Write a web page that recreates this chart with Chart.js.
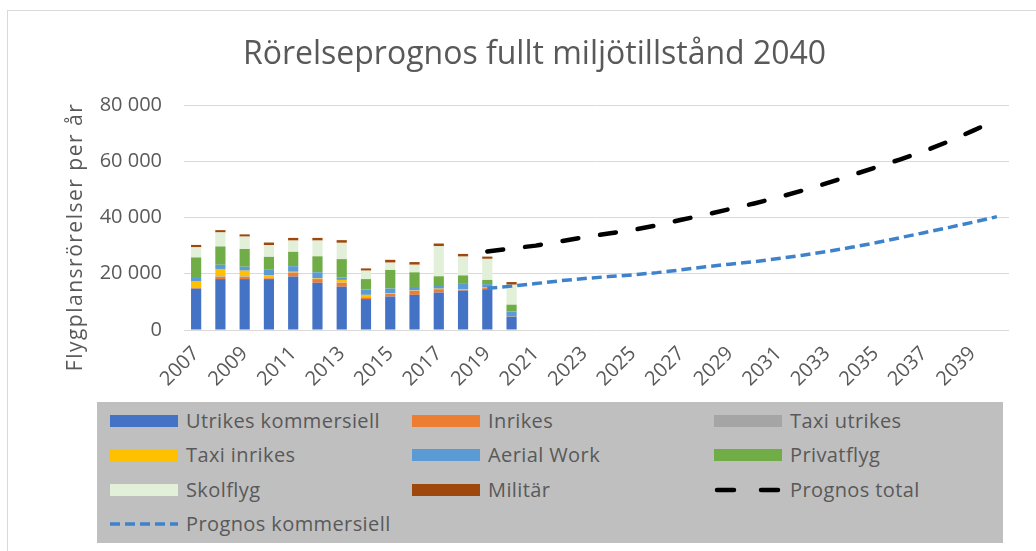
<!DOCTYPE html>
<html>
<head>
<meta charset="utf-8">
<script src="https://cdn.jsdelivr.net/npm/chart.js@4/dist/chart.umd.min.js"></script>
<style>
  body { margin: 0; background: #fff; overflow: hidden; width: 1036px; height: 551px; position: relative; }
  .frame { position: absolute; left: 7px; top: 10px; width: 1100px; height: 600px; border: 1px solid #d9d9d9; }
  #chart { position: absolute; left: 0; top: 0; }
  .legend { position: absolute; left: 97px; top: 402px; width: 906px; height: 141px; background: #bfbfbf;
            font-family: 'Open Sans', sans-serif; font-size: 20px; letter-spacing: 0.4px; color: #595959; }
  .item { position: absolute; height: 30px; }
  .item span { position: absolute; left: 76px; top: 0; line-height: 30px; white-space: nowrap; }
  .item .sw { position: absolute; left: 0; top: 9px; width: 68px; height: 12px; }
  .item svg { position: absolute; left: 0; top: 5px; }
</style>
</head>
<body>
<div class="frame"></div>
<canvas id="chart" width="1036" height="551"></canvas>
<div class="legend" id="legend"></div>
<script>
// Categories
const years = ["2007", "2008", "2009", "2010", "2011", "2012", "2013", "2014", "2015", "2016", "2017",
  "2018", "2019", "2020", "2021", "2022", "2023", "2024", "2025", "2026", "2027", "2028", "2029",
  "2030", "2031", "2032", "2033", "2034", "2035", "2036", "2037", "2038", "2039", "2040"];

// Historical movements 2007-2020
const utrikesKommersiell = [14700, 18100, 18100, 18100, 19000, 16800, 15400, 11000, 11900, 12500, 13300, 14000, 14500, 4700];
const inrikes = [300, 800, 800, 300, 1400, 1300, 1400, 600, 950, 1400, 1200, 300, 400, 100];
const taxiUtrikes = [200, 200, 200, 100, 100, 100, 100, 100, 100, 100, 100, 100, 100, 0];
const taxiInrikes = [2000, 2600, 2000, 1000, 200, 200, 900, 800, 200, 100, 100, 100, 100, 0];
const aerialWork = [1300, 1500, 1400, 2100, 2000, 2100, 900, 1900, 1600, 1200, 1300, 1900, 1200, 1800];
const privatflyg = [7300, 6500, 6300, 4400, 5100, 5700, 6500, 3700, 6600, 5200, 3100, 3000, 1500, 2400];
const skolflyg = [3600, 5000, 4400, 4200, 4000, 5600, 5800, 3000, 2600, 2700, 10700, 6700, 7500, 7100];
const militar = [850, 800, 800, 900, 950, 950, 950, 800, 1000, 950, 950, 950, 800, 950];

// Forecasts 2019-2040
const prognosTotal = [27900, 29000, 30000, 31500, 33000, 34300, 35600, 37200, 39200, 41000, 43000,
  45000, 47200, 49600, 52200, 55000, 57800, 60600, 63600, 67000, 70800, 74700];
const prognosKommersiell = [14800, 15600, 16500, 17500, 18300, 19000, 19600, 20400, 21400, 22500, 23400,
  24300, 25400, 26600, 27900, 29400, 31000, 32800, 34600, 36400, 38300, 40300];
const prognosStart = years.indexOf("2019");

const yTicks = [0, 20000, 40000, 60000, 80000];

const textColor = "#595959";
Chart.defaults.font.family = "'Open Sans', sans-serif";
Chart.defaults.color = textColor;

const bar = (label, data, color) => ({ type: "bar", label, data, backgroundColor: color, stack: "hist" });
const pad = arr => Array(prognosStart).fill(null).concat(arr);

const datasets = [
  bar("Utrikes kommersiell", utrikesKommersiell, "#4472c4"),
  bar("Inrikes", inrikes, "#ed7d31"),
  bar("Taxi utrikes", taxiUtrikes, "#a5a5a5"),
  bar("Taxi inrikes", taxiInrikes, "#ffc000"),
  bar("Aerial Work", aerialWork, "#5b9bd5"),
  bar("Privatflyg", privatflyg, "#70ad47"),
  bar("Skolflyg", skolflyg, "#e2efd9"),
  bar("Militär", militar, "#9e480e"),
  {
    type: "line", label: "Prognos total", data: pad(prognosTotal), stack: "total", order: -1,
    borderColor: "#000", borderWidth: 4.5, borderDash: [16, 22], borderCapStyle: "round",
    pointRadius: 0, fill: false
  },
  {
    type: "line", label: "Prognos kommersiell", data: pad(prognosKommersiell), stack: "komm", order: -1,
    borderColor: "#3e82cc", borderWidth: 3.5, borderDash: [10, 5],
    pointRadius: 0, fill: false
  }
];

// y axis title placed like the original
const yTitle = {
  id: "yTitle",
  afterDraw(chart) {
    const c = chart.ctx;
    c.save();
    c.translate(76, 237);
    c.rotate(-Math.PI / 2);
    c.font = "21px 'Open Sans', sans-serif";
    c.letterSpacing = "1.5px";
    c.fillStyle = textColor;
    c.textAlign = "center";
    c.textBaseline = "middle";
    c.fillText("Flygplansrörelser per år", 0, 0);
    c.restore();
  }
};

const chart = new Chart(document.getElementById("chart"), {
  data: { labels: years, datasets },
  options: {
    responsive: false,
    animation: false,
    devicePixelRatio: 1,
    layout: { padding: { top: 10, left: 60, right: 27, bottom: 151 } },
    datasets: { bar: { barPercentage: 0.42, categoryPercentage: 1 } },
    plugins: {
      legend: { display: false },
      tooltip: { enabled: false },
      title: {
        display: true,
        text: "Rörelseprognos fullt miljötillstånd 2040",
        color: textColor,
        font: { size: 32, weight: "normal" },
        padding: { top: 26, bottom: 30.6 }
      }
    },
    scales: {
      x: {
        stacked: true,
        grid: { display: false },
        border: { display: false },
        ticks: {
          autoSkip: false, maxRotation: 45, minRotation: 45, padding: 4,
          font: { size: 20 }, color: textColor,
          callback(v, i) { return i % 2 === 0 ? this.getLabelForValue(v) : ""; }
        },
        afterFit(s) { s.height = 70; }
      },
      y: {
        stacked: true,
        min: 0, max: 80000,
        afterBuildTicks(s) { s.ticks = yTicks.map(v => ({ value: v })); },
        grid: { color: "#d9d9d9", drawTicks: false },
        border: { display: false },
        ticks: {
          padding: 22, font: { size: 20 }, color: textColor,
          callback: v => String(v).replace(/\B(?=(\d{3})+$)/g, " ")
        },
        afterFit(s) { s.width = 124; }
      }
    }
  },
  plugins: [yTitle]
});

// HTML legend in three columns, built from the chart datasets
const legend = document.getElementById("legend");
chart.data.datasets.forEach((ds, i) => {
  const col = i % 3, row = Math.floor(i / 3);
  const item = document.createElement("div");
  item.className = "item";
  item.style.left = (13 + col * 302) + "px";
  item.style.top = (4 + row * 34.4) + "px";
  if (ds.type === "bar") {
    const sw = document.createElement("div");
    sw.className = "sw";
    sw.style.background = ds.backgroundColor;
    item.appendChild(sw);
  } else {
    const ns = "http://www.w3.org/2000/svg";
    const svg = document.createElementNS(ns, "svg");
    svg.setAttribute("width", "70");
    svg.setAttribute("height", "20");
    const ln = document.createElementNS(ns, "line");
    const cap = ds.borderCapStyle === "round";
    ln.setAttribute("x1", cap ? 3 : 0);
    ln.setAttribute("x2", cap ? 67 : 68);
    ln.setAttribute("y1", 10);
    ln.setAttribute("y2", 10);
    ln.setAttribute("stroke", ds.borderColor);
    ln.setAttribute("stroke-width", ds.borderWidth);
    ln.setAttribute("stroke-dasharray", cap ? "17 27" : ds.borderDash.join(" "));
    if (cap) ln.setAttribute("stroke-linecap", "round");
    svg.appendChild(ln);
    item.appendChild(svg);
  }
  const t = document.createElement("span");
  t.textContent = ds.label;
  item.appendChild(t);
  legend.appendChild(item);
});
</script>
</body>
</html>
